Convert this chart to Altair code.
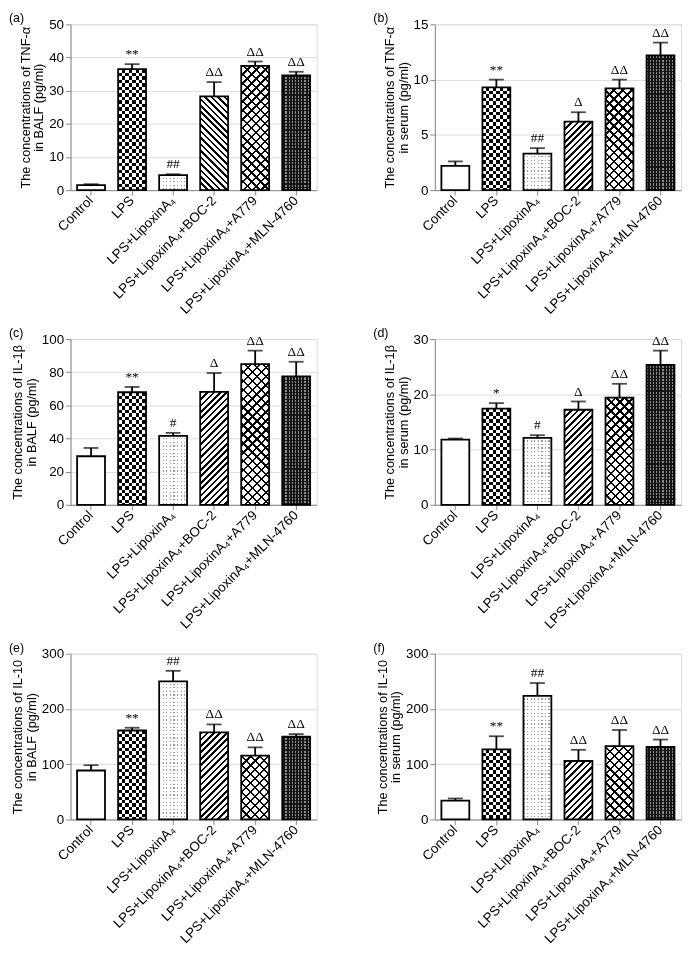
import altair as alt
import pandas as pd

groups = ["Control", "LPS", "LPS+LipoxinA₄", "LPS+LipoxinA₄+BOC-2",
          "LPS+LipoxinA₄+A779", "LPS+LipoxinA₄+MLN-4760"]

# (a) TNF-alpha BALF
a_mean = [1.5, 36.5, 4.5, 28.3, 37.5, 34.6]
a_top = [1.8, 38.0, 4.8, 32.6, 38.8, 35.7]
a_sig = ["", "**", "##", "ΔΔ", "ΔΔ", "ΔΔ"]
# (b) TNF-alpha serum
b_mean = [2.2, 9.3, 3.3, 6.2, 9.2, 12.2]
b_top = [2.6, 10.0, 3.8, 7.05, 10.0, 13.35]
b_sig = ["", "**", "##", "Δ", "ΔΔ", "ΔΔ"]
# (c) IL-1beta BALF
c_mean = [29.3, 67.9, 41.6, 68.1, 84.9, 77.5]
c_top = [34.3, 71.1, 43.4, 79.5, 93.0, 86.3]
c_sig = ["", "**", "#", "Δ", "ΔΔ", "ΔΔ"]
# (d) IL-1beta serum
d_mean = [11.8, 17.4, 12.1, 17.2, 19.4, 25.3]
d_top = [12.0, 18.4, 12.6, 18.7, 21.9, 27.9]
d_sig = ["", "*", "#", "Δ", "ΔΔ", "ΔΔ"]
# (e) IL-10 BALF
e_mean = [88.6, 161.0, 250.0, 157.5, 115.6, 149.7]
e_top = [98.2, 166.0, 269.0, 172.0, 130.5, 154.5]
e_sig = ["", "**", "##", "ΔΔ", "ΔΔ", "ΔΔ"]
# (f) IL-10 serum
f_mean = [34.0, 126.7, 223.5, 105.8, 132.7, 131.5]
f_top = [38.0, 150.6, 246.9, 126.1, 162.0, 144.6]
f_sig = ["", "**", "##", "ΔΔ", "ΔΔ", "ΔΔ"]

tags = ["(a)", "(b)", "(c)", "(d)", "(e)", "(f)"]
titles = [
    ["The concentrations of TNF-α", "in BALF (pg/ml)"],
    ["The concentrations of TNF-α", "in serum (pg/ml)"],
    ["The concentrations of IL-1β", "in BALF (pg/ml)"],
    ["The concentrations of IL-1β", "in serum (pg/ml)"],
    ["The concentrations of IL-10", "in BALF (pg/ml)"],
    ["The concentrations of IL-10", "in serum (pg/ml)"],
]
ymaxs = [50, 15, 100, 30, 300, 300]
ysteps = [10, 5, 20, 10, 100, 100]
boc_dirs = ["back", "fwd", "fwd", "fwd", "fwd", "fwd"]

W, H = 248, 167
PI = 0.32
BW = W / 6 * (1 - PI)
FONT = "Liberation Sans"
SERIF = "Liberation Serif"
CLEAR = "rgba(0,0,0,0)"


def stops(period, duty, c_on, c_off):
    out = []
    t = 0.0
    while t < 1.0:
        e1 = min(t + duty * period, 1.0)
        out.append({"offset": round(t, 5), "color": c_on})
        out.append({"offset": round(e1, 5), "color": c_on})
        if e1 < 1.0:
            e2 = min(t + period, 1.0)
            out.append({"offset": round(e1, 5), "color": c_off})
            out.append({"offset": round(e2, 5), "color": c_off})
        t += period
    return out


def vert(p, on_px, c_on, c_off):
    return {"gradient": "linear", "x1": 0, "y1": 0, "x2": 1, "y2": 0,
            "stops": stops(p / BW, on_px / p, c_on, c_off)}


def horiz(p, on_px, c_on, c_off, h):
    return {"gradient": "linear", "x1": 0, "y1": 0, "x2": 0, "y2": 1,
            "stops": stops(p / h, on_px / p, c_on, c_off)}


def diag(p, on_px, c_on, c_off, h, direction):
    w = BW
    k = w * (w + h) / (w * w + h * h)
    st = stops(p / (w + h), on_px / p, c_on, c_off)
    if direction == "fwd":
        return {"gradient": "linear", "x1": 0, "y1": 0, "x2": k, "y2": k * h / w, "stops": st}
    return {"gradient": "linear", "x1": 0, "y1": 1, "x2": k, "y2": 1 - k * h / w, "stops": st}


def panel(i, mean, top, sig):
    ymax = ymaxs[i]
    df = pd.DataFrame({"group": groups, "mean": mean, "top": top, "sig": sig})
    base = alt.Chart(df)
    xenc = alt.X("group:N", sort=groups,
                 scale=alt.Scale(paddingInner=PI, paddingOuter=PI / 2),
                 axis=alt.Axis(title=None, labelAngle=-45, labelAlign="right",
                               labelBaseline="middle", labelLimit=400,
                               labelFontSize=13.5, labelPadding=3))
    yscale = alt.Scale(domain=[0, ymax], nice=False)
    yaxis = alt.Axis(title=titles[i], values=list(range(0, ymax + 1, ysteps[i])),
                     labelFontSize=13.5, titleFontSize=12.8, titleFontWeight="normal",
                     titlePadding=3, titleLineHeight=13.5, labelPadding=2)

    def Y(field):
        return alt.Y(field, scale=yscale, axis=yaxis)

    hpx = [v / ymax * H for v in mean]
    layers = []

    def bar(gi, fill, blend=""):
        kw = {"fill": fill}
        if blend:
            kw["blend"] = blend
        return (base.transform_filter(alt.FieldEqualPredicate(field="group", equal=groups[gi]))
                .mark_bar(**kw).encode(x=xenc, y=Y("mean:Q")))

    # Control: white
    layers.append(bar(0, "white"))
    # LPS: checkerboard
    layers.append(bar(1, vert(7, 3.5, "black", "white")))
    layers.append(bar(1, horiz(7, 3.5, "white", CLEAR, hpx[1]), "difference"))
    # LipoxinA4: dots
    layers.append(bar(2, vert(3.6, 1.2, "#9a9a9a", "white")))
    layers.append(bar(2, horiz(3.6, 2.4, "white", CLEAR, hpx[2])))
    # BOC-2: hatch
    layers.append(bar(3, diag(6.5, 2.6, "black", "white", hpx[3], boc_dirs[i])))
    # A779: cross hatch
    layers.append(bar(4, diag(9, 2.4, "black", "white", hpx[4], "fwd")))
    layers.append(bar(4, diag(9, 2.4, "black", CLEAR, hpx[4], "back")))
    # MLN-4760: dark fine texture
    layers.append(bar(5, vert(3.2, 1.1, "#8a8a8a", "#151515")))
    layers.append(bar(5, horiz(3.2, 1.1, "#151515", CLEAR, hpx[5])))
    # outlines
    layers.append(base.mark_bar(fill="white", fillOpacity=0, stroke="black", strokeWidth=1.8)
                  .encode(x=xenc, y=Y("mean:Q")))
    # error bars
    layers.append(base.mark_rule(color="black", strokeWidth=1.8)
                  .encode(x=xenc, y=Y("mean:Q"), y2="top:Q"))
    layers.append(base.mark_tick(color="black", size=15, thickness=1.8)
                  .encode(x=xenc, y=Y("top:Q")))
    # significance marks
    layers.append(base.mark_text(font=SERIF, fontSize=13.5, baseline="bottom", dy=-3, color="black")
                  .encode(x=xenc, y=Y("top:Q"), text="sig:N"))
    # panel tag
    tagdf = pd.DataFrame({"t": [tags[i]]})
    layers.append(alt.Chart(tagdf).mark_text(font=FONT, fontSize=12.5, align="left", baseline="top",
                                              color="black")
                  .encode(x=alt.value(-62), y=alt.value(-12), text="t:N"))
    return alt.layer(*layers).properties(width=W, height=H)


charts = [
    panel(0, a_mean, a_top, a_sig),
    panel(1, b_mean, b_top, b_sig),
    panel(2, c_mean, c_top, c_sig),
    panel(3, d_mean, d_top, d_sig),
    panel(4, e_mean, e_top, e_sig),
    panel(5, f_mean, f_top, f_sig),
]

chart = alt.concat(*charts, columns=2, spacing={"row": 9, "column": 55}, padding=0).configure_view(
    stroke=None
).configure_axis(
    domainColor="black", domainWidth=1.8, tickColor="black", tickWidth=1.8, tickSize=5,
    labelColor="black", titleColor="black", grid=False, labelFont=FONT, titleFont=FONT
).configure(background="white")

chart.save("out.html", embed_options={"renderer": "svg", "actions": False})
